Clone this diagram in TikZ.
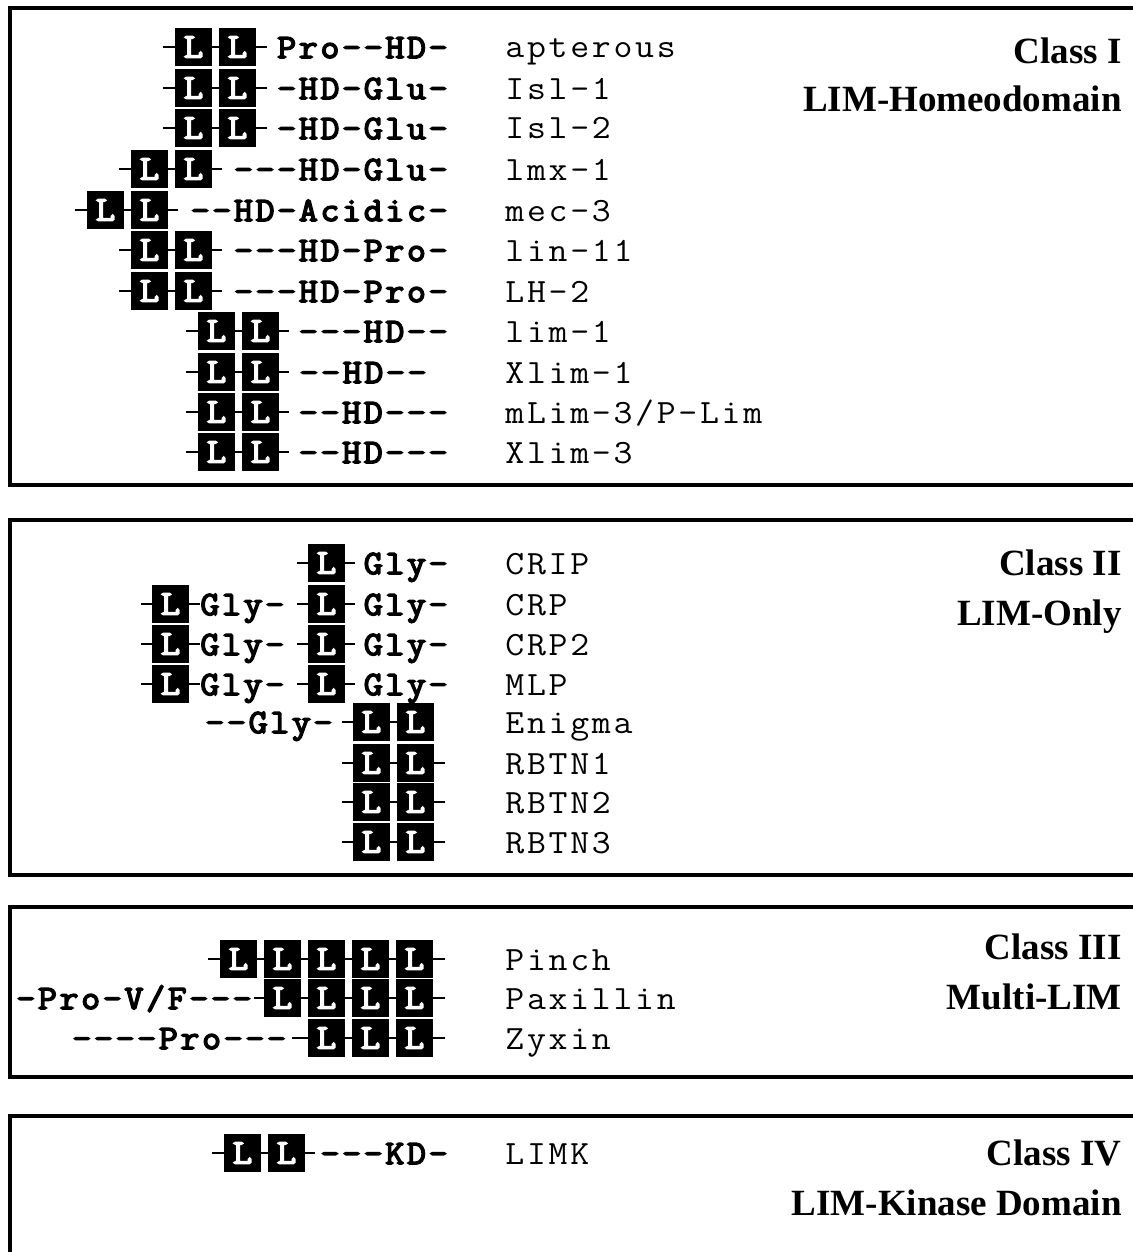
\documentclass[tikz,border=0pt]{standalone}
\usepackage{fontspec}
\setmainfont{Liberation Serif}
\newfontfamily\courier[FakeStretch=1.08,LetterSpace=8]{Latin Modern Mono}
\newfontfamily\courierb[FakeStretch=1.08,LetterSpace=8,FakeBold=4.5]{Latin Modern Mono}
\newfontfamily\courierl[FakeStretch=1.08,FakeBold=4.5]{Latin Modern Mono}
\newcommand\seqfont{\courierb\fontsize{17}{20}\selectfont}
\newcommand\genefont{\courier\fontsize{17}{20}\selectfont}
\newcommand\classfont{\bfseries\fontsize{18.5}{22}\selectfont}
\newcommand\limfont{\courierl\fontsize{17.5}{17.5}\selectfont}
\tikzset{
  limbox/.style={fill=black,text=white,inner sep=0pt,minimum width=18.5pt,minimum height=19pt,font=\limfont},
  seq/.style={anchor=base east,inner sep=0pt,font=\seqfont},
  seqw/.style={anchor=base west,inner sep=0pt,font=\seqfont},
  gene/.style={anchor=base west,inner sep=0pt,font=\genefont},
  cls/.style={anchor=base east,inner sep=0pt,font=\classfont},
  link/.style={line width=1.3pt},
  frame/.style={line width=1.6pt}
}
\begin{document}
\begin{tikzpicture}[x=.5pt,y=-.5pt]
\path[use as bounding box] (0,0) rectangle (1133,1252);
\clip (0,0) rectangle (1133,1252);
\draw[frame] (1140,8)--(10,8)--(10,485)--(1140,485);
\draw[frame] (1140,520)--(10,520)--(10,875)--(1140,875);
\draw[frame] (1140,907)--(10,907)--(10,1077)--(1140,1077);
\draw[frame] (1140,1116)--(10,1116)--(10,1260);

\coordinate (apD) at (163,47);
\node[limbox] (apL1) at (193.5,47) {L};
\node[limbox] (apL2) at (237.5,47) {L};
\coordinate (apE) at (267,47);
\node[seq] (apS) at (448,58) {Pro--HD-};
\node[gene] (apN) at (505,58) {apterous};
\draw[link] (apD)--(apL1)--(apL2)--(apE);
\coordinate (isaD) at (163,88);
\node[limbox] (isaL1) at (193.5,88) {L};
\node[limbox] (isaL2) at (237.5,88) {L};
\coordinate (isaE) at (267,88);
\node[seq] (isaS) at (448,99) {-HD-Glu-};
\node[gene] (isaN) at (505,99) {Isl-1};
\draw[link] (isaD)--(isaL1)--(isaL2)--(isaE);
\coordinate (isbD) at (163,128);
\node[limbox] (isbL1) at (193.5,128) {L};
\node[limbox] (isbL2) at (237.5,128) {L};
\coordinate (isbE) at (267,128);
\node[seq] (isbS) at (448,139) {-HD-Glu-};
\node[gene] (isbN) at (505,139) {Isl-2};
\draw[link] (isbD)--(isbL1)--(isbL2)--(isbE);
\coordinate (lmxD) at (119,169);
\node[limbox] (lmxL1) at (149.5,169) {L};
\node[limbox] (lmxL2) at (193.5,169) {L};
\coordinate (lmxE) at (222,169);
\node[seq] (lmxS) at (448,180) {---HD-Glu-};
\node[gene] (lmxN) at (505,180) {lmx-1};
\draw[link] (lmxD)--(lmxL1)--(lmxL2)--(lmxE);
\coordinate (mecD) at (75,210);
\node[limbox] (mecL1) at (105.5,210) {L};
\node[limbox] (mecL2) at (149.5,210) {L};
\coordinate (mecE) at (178,210);
\node[seq] (mecS) at (448,221) {--HD-Acidic-};
\node[gene] (mecN) at (505,221) {mec-3};
\draw[link] (mecD)--(mecL1)--(mecL2)--(mecE);
\coordinate (linD) at (119,250);
\node[limbox] (linL1) at (149.5,250) {L};
\node[limbox] (linL2) at (193.5,250) {L};
\coordinate (linE) at (222,250);
\node[seq] (linS) at (448,261) {---HD-Pro-};
\node[gene] (linN) at (505,261) {lin-11};
\draw[link] (linD)--(linL1)--(linL2)--(linE);
\coordinate (lhD) at (119,291);
\node[limbox] (lhL1) at (149.5,291) {L};
\node[limbox] (lhL2) at (193.5,291) {L};
\coordinate (lhE) at (222,291);
\node[seq] (lhS) at (448,302) {---HD-Pro-};
\node[gene] (lhN) at (505,302) {LH-2};
\draw[link] (lhD)--(lhL1)--(lhL2)--(lhE);
\coordinate (limD) at (186,331);
\node[limbox] (limL1) at (216.5,331) {L};
\node[limbox] (limL2) at (260.5,331) {L};
\coordinate (limE) at (289,331);
\node[seq] (limS) at (448,342) {---HD--};
\node[gene] (limN) at (505,342) {lim-1};
\draw[link] (limD)--(limL1)--(limL2)--(limE);
\coordinate (xlaD) at (186,372);
\node[limbox] (xlaL1) at (216.5,372) {L};
\node[limbox] (xlaL2) at (260.5,372) {L};
\coordinate (xlaE) at (289,372);
\node[seq] (xlaS) at (427,383) {--HD--};
\node[gene] (xlaN) at (505,383) {Xlim-1};
\draw[link] (xlaD)--(xlaL1)--(xlaL2)--(xlaE);
\coordinate (mlD) at (186,412);
\node[limbox] (mlL1) at (216.5,412) {L};
\node[limbox] (mlL2) at (260.5,412) {L};
\coordinate (mlE) at (289,412);
\node[seq] (mlS) at (448,423) {--HD---};
\node[gene] (mlN) at (505,423) {mLim-3/P-Lim};
\draw[link] (mlD)--(mlL1)--(mlL2)--(mlE);
\coordinate (xlcD) at (186,452);
\node[limbox] (xlcL1) at (216.5,452) {L};
\node[limbox] (xlcL2) at (260.5,452) {L};
\coordinate (xlcE) at (289,452);
\node[seq] (xlcS) at (448,463) {--HD---};
\node[gene] (xlcN) at (505,463) {Xlim-3};
\draw[link] (xlcD)--(xlcL1)--(xlcL2)--(xlcE);
\node[cls] (c1a) at (1122,64) {Class I};
\node[cls] (c1b) at (1122,112) {LIM-Homeodomain};

\coordinate (cripD) at (297,563);
\node[limbox] (cripL1) at (326.5,563) {L};
\coordinate (cripE) at (355,563);
\node[seq] (cripS) at (448,574) {Gly-};
\node[gene] (cripN) at (505,574) {CRIP};
\draw[link] (cripD)--(cripL1)--(cripE);
\coordinate (crpD) at (141,604);
\node[limbox] (crpL1) at (170.5,604) {L};
\node[seqw] (crpM) at (200,615) {Gly-};
\coordinate (crpF) at (297,604);
\node[limbox] (crpL2) at (326.5,604) {L};
\coordinate (crpE) at (355,604);
\node[seq] (crpS) at (448,615) {Gly-};
\node[gene] (crpN) at (505,615) {CRP};
\draw[link] (crpD)--(crpL1)--(crpL1.east -| crpM.west);
\draw[link] (crpF)--(crpL2)--(crpE);
\coordinate (crpbD) at (141,644);
\node[limbox] (crpbL1) at (170.5,644) {L};
\node[seqw] (crpbM) at (200,655) {Gly-};
\coordinate (crpbF) at (297,644);
\node[limbox] (crpbL2) at (326.5,644) {L};
\coordinate (crpbE) at (355,644);
\node[seq] (crpbS) at (448,655) {Gly-};
\node[gene] (crpbN) at (505,655) {CRP2};
\draw[link] (crpbD)--(crpbL1)--(crpbL1.east -| crpbM.west);
\draw[link] (crpbF)--(crpbL2)--(crpbE);
\coordinate (mlpD) at (141,684);
\node[limbox] (mlpL1) at (170.5,684) {L};
\node[seqw] (mlpM) at (200,695) {Gly-};
\coordinate (mlpF) at (297,684);
\node[limbox] (mlpL2) at (326.5,684) {L};
\coordinate (mlpE) at (355,684);
\node[seq] (mlpS) at (448,695) {Gly-};
\node[gene] (mlpN) at (505,695) {MLP};
\draw[link] (mlpD)--(mlpL1)--(mlpL1.east -| mlpM.west);
\draw[link] (mlpF)--(mlpL2)--(mlpE);
\node[seqw] (enM) at (205,733) {--Gly-};
\coordinate (enF) at (342,722);
\node[limbox] (enL1) at (371.5,722) {L};
\node[limbox] (enL2) at (415.5,722) {L};
\node[gene] (enN) at (505,733) {Enigma};
\draw[link] (enF)--(enL1)--(enL2);
\coordinate (rbaD) at (342,763);
\node[limbox] (rbaL1) at (371.5,763) {L};
\node[limbox] (rbaL2) at (415.5,763) {L};
\coordinate (rbaT) at (445,763);
\node[gene] (rbaN) at (505,774) {RBTN1};
\draw[link] (rbaD)--(rbaL1)--(rbaL2)--(rbaT);
\coordinate (rbbD) at (342,802);
\node[limbox] (rbbL1) at (371.5,802) {L};
\node[limbox] (rbbL2) at (415.5,802) {L};
\coordinate (rbbT) at (445,802);
\node[gene] (rbbN) at (505,813) {RBTN2};
\draw[link] (rbbD)--(rbbL1)--(rbbL2)--(rbbT);
\coordinate (rbcD) at (342,842);
\node[limbox] (rbcL1) at (371.5,842) {L};
\node[limbox] (rbcL2) at (415.5,842) {L};
\coordinate (rbcT) at (445,842);
\node[gene] (rbcN) at (505,853) {RBTN3};
\draw[link] (rbcD)--(rbcL1)--(rbcL2)--(rbcT);
\node[cls] (c2a) at (1122,575) {Class II};
\node[cls] (c2b) at (1122,625) {LIM-Only};

\coordinate (piD) at (208,959);
\node[limbox] (piL1) at (238.5,959) {L};
\node[limbox] (piL2) at (282.5,959) {L};
\node[limbox] (piL3) at (326.5,959) {L};
\node[limbox] (piL4) at (370.5,959) {L};
\node[limbox] (piL5) at (414.5,959) {L};
\coordinate (piT) at (445,959);
\node[gene] (piN) at (505,970) {Pinch};
\draw[link] (piD)--(piL1)--(piL2)--(piL3)--(piL4)--(piL5)--(piT);
\node[seqw] (paM) at (16,1009) {-Pro-V/F---};
\coordinate (paF) at (254,998);
\node[limbox] (paL1) at (282.5,998) {L};
\node[limbox] (paL2) at (326.5,998) {L};
\node[limbox] (paL3) at (370.5,998) {L};
\node[limbox] (paL4) at (414.5,998) {L};
\coordinate (paT) at (445,998);
\node[gene] (paN) at (505,1009) {Paxillin};
\draw[link] (paF)--(paL1)--(paL2)--(paL3)--(paL4)--(paT);
\node[seqw] (zyM) at (72,1049) {----Pro---};
\coordinate (zyF) at (292,1038);
\node[limbox] (zyL1) at (326.5,1038) {L};
\node[limbox] (zyL2) at (370.5,1038) {L};
\node[limbox] (zyL3) at (414.5,1038) {L};
\coordinate (zyT) at (445,1038);
\node[gene] (zyN) at (505,1049) {Zyxin};
\draw[link] (zyF)--(zyL1)--(zyL2)--(zyL3)--(zyT);
\node[cls] (c3a) at (1122,959) {Class III};
\node[cls] (c3b) at (1122,1009) {Multi-LIM};

\coordinate (lkD) at (212,1153);
\node[limbox] (lkL1) at (242.5,1153) {L};
\node[limbox] (lkL2) at (286.5,1153) {L};
\coordinate (lkE) at (315,1153);
\node[seq] (lkS) at (448,1164) {---KD-};
\node[gene] (lkN) at (505,1164) {LIMK};
\draw[link] (lkD)--(lkL1)--(lkL2)--(lkE);
\node[cls] (c4a) at (1122,1165) {Class IV};
\node[cls] (c4b) at (1122,1215) {LIM-Kinase Domain};
\end{tikzpicture}
\end{document}
